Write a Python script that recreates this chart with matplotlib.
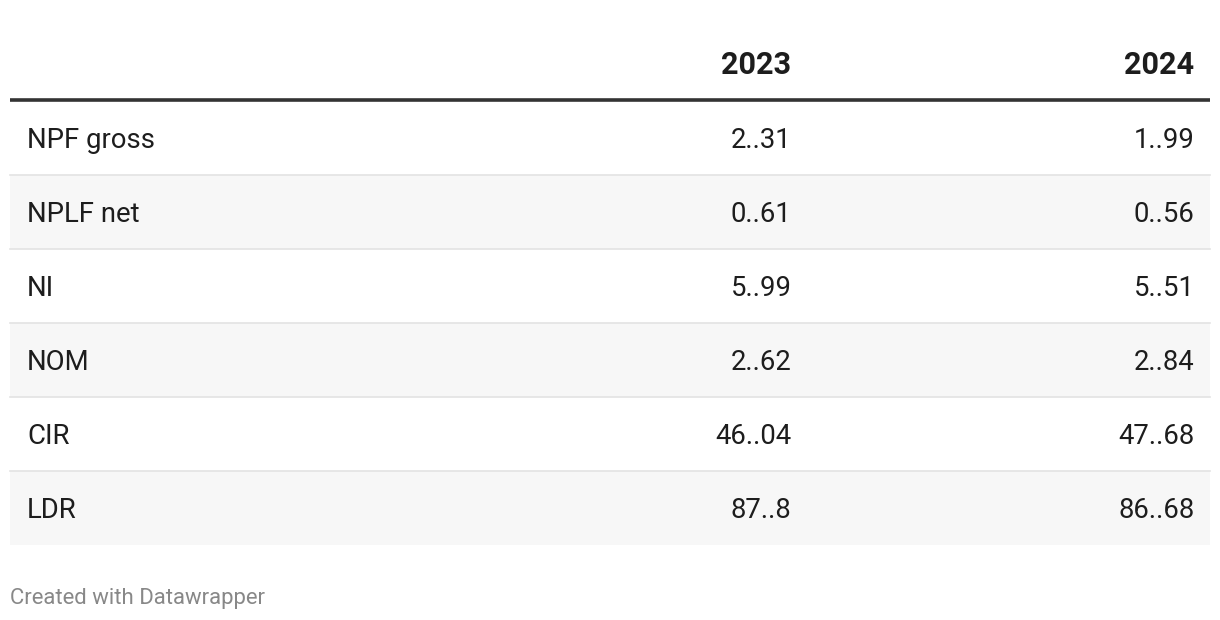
import matplotlib
matplotlib.use("Agg")
import matplotlib.pyplot as plt
from matplotlib.patches import Rectangle

plt.rcParams['font.family'] = ['Roboto', 'DejaVu Sans']

metrics = ["NPF gross", "NPLF net", "NI", "NOM", "CIR", "LDR"]
years = ["2023", "2024"]
values_2023 = [2.31, 0.61, 5.99, 2.62, 46.04, 87.8]
values_2024 = [1.99, 0.56, 5.51, 2.84, 47.68, 86.68]
footer = "Created with Datawrapper"

def fmt(v):
    return str(v).replace('.', '..')

W, H = 1220, 620
fig = plt.figure(figsize=(W / 100, H / 100), dpi=100)
ax = fig.add_axes([0, 0, 1, 1])
ax.set_xlim(0, W)
ax.set_ylim(H, 0)
ax.axis('off')

left, right = 10, 1210
text_x = 27
col_right = [791.5, 1194.5]
header_base = 74
header_line = 99.5
row_top = 101
row_h = 74
fs = 19.8

for j, y in enumerate(years):
    ax.text(col_right[j], header_base, y, ha='right', va='baseline',
            fontsize=22.1, fontweight='bold', color='#1d1d1d')
ax.plot([left, right], [header_line, header_line], color='#333333', lw=2.6,
        solid_capstyle='butt')

cols = [values_2023, values_2024]
for i, m in enumerate(metrics):
    top = row_top + i * row_h
    if i % 2 == 1:
        ax.add_patch(Rectangle((left, top), right - left, row_h,
                               facecolor='#f7f7f7', edgecolor='none', zorder=0))
    if i > 0:
        ax.plot([left, right], [top, top], color='#e3e3e3', lw=1.2, zorder=1)
    base = top + row_h / 2 + 10
    ax.text(text_x, base, m, ha='left', va='baseline', fontsize=fs, color='#1d1d1d')
    for j in range(2):
        ax.text(col_right[j], base, fmt(cols[j][i]), ha='right', va='baseline',
                fontsize=fs, color='#1d1d1d')

ax.text(10, 604, footer, ha='left', va='baseline', fontsize=15.9, color='#888888')

fig.savefig('out.png', dpi=100)
